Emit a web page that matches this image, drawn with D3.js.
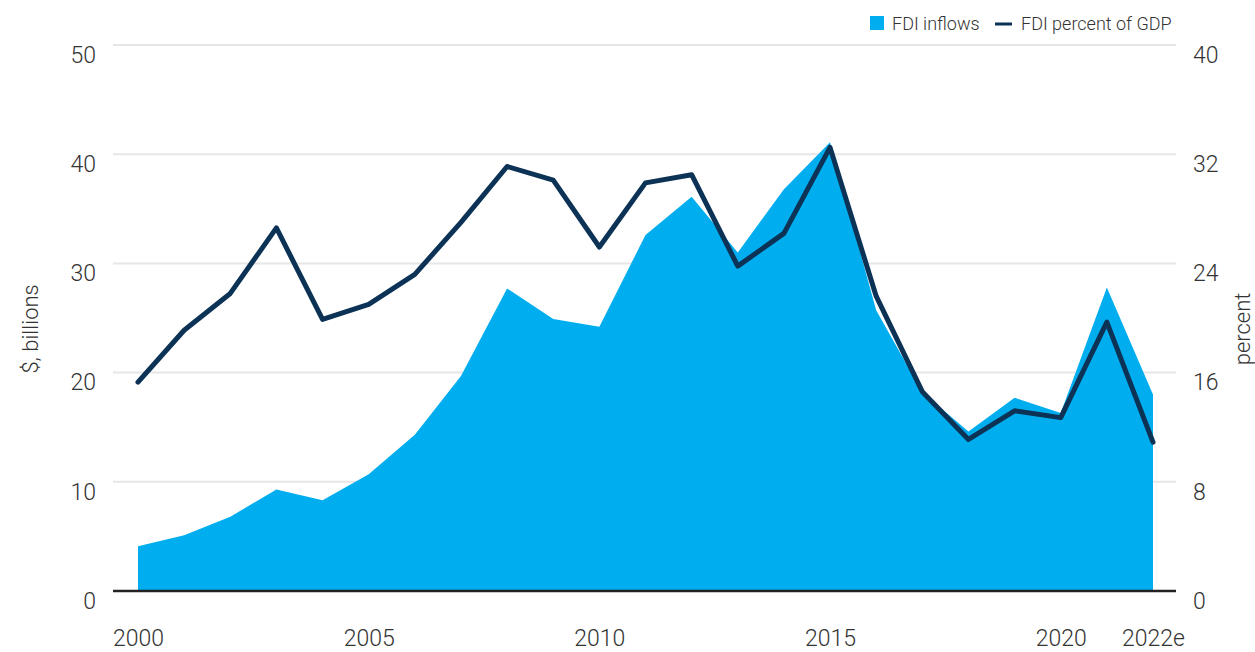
<!DOCTYPE html>
<html>
<head>
<meta charset="utf-8">
<script src="https://cdn.jsdelivr.net/npm/d3@7"></script>
<style>
  body { margin: 0; background: #fff; }
  text { font-family: "Roboto", sans-serif; font-weight: 300; fill: #333; }
</style>
</head>
<body>
<div id="chart"></div>
<script>
var years = [2000, 2001, 2002, 2003, 2004, 2005, 2006, 2007, 2008, 2009, 2010, 2011,
             2012, 2013, 2014, 2015, 2016, 2017, 2018, 2019, 2020, 2021, 2022];
var fdiInflows = [4.1, 5.1, 6.8, 9.3, 8.3, 10.7, 14.3, 19.7, 27.7, 24.9, 24.2, 32.6,
                  36.1, 31.0, 36.8, 41.1, 25.7, 18.2, 14.6, 17.7, 16.3, 27.8, 18.0];
var fdiPctGdp = [15.3, 19.1, 21.8, 26.6, 19.9, 21.0, 23.2, 27.0, 31.1, 30.1, 25.2, 29.9,
                 30.5, 23.8, 26.2, 32.5, 21.6, 14.6, 11.1, 13.2, 12.7, 19.7, 10.9];
var leftTicks = [0, 10, 20, 30, 40, 50];
var rightTicks = [0, 8, 16, 24, 32, 40];
var xTicks = [2000, 2005, 2010, 2015, 2020, 2022];
var xTickLabels = ["2000", "2005", "2010", "2015", "2020", "2022e"];

var svgWidth = 1255;
var svgHeight = 652;

var margin = { top: 45, right: 79, bottom: 61, left: 113 };
var width = svgWidth - margin.left - margin.right;
var height = svgHeight - margin.top - margin.bottom;

var svg = d3.select("#chart")
    .append("svg")
    .attr("width", svgWidth)
    .attr("height", svgHeight);

var chartGroup = svg.append("g")
    .attr("transform", `translate(${margin.left}, ${margin.top})`);

var xScale = d3.scaleLinear()
    .domain([2000, 2022])
    .range([25, 1040]);

var yLeft = d3.scaleLinear().domain([0, 50]).range([height, 0]);
var yRight = d3.scaleLinear().domain([0, 40]).range([height, 0]);

var data = years.map(function(y, i) {
    return { year: y, inflow: fdiInflows[i], pct: fdiPctGdp[i] };
});

// gridlines
chartGroup.selectAll(".grid")
    .data(leftTicks.slice(1))
    .enter()
    .append("line")
    .attr("x1", 0)
    .attr("x2", width)
    .attr("y1", d => yLeft(d))
    .attr("y2", d => yLeft(d))
    .attr("stroke", "#e6e6e6")
    .attr("stroke-width", 2);

// area
var area = d3.area()
    .x(d => xScale(d.year))
    .y0(yLeft(0))
    .y1(d => yLeft(d.inflow));

chartGroup.append("path")
    .datum(data)
    .attr("d", area)
    .attr("fill", "#00aeef");

// baseline
chartGroup.append("line")
    .attr("x1", 0)
    .attr("x2", width)
    .attr("y1", height)
    .attr("y2", height)
    .attr("stroke", "#222")
    .attr("stroke-width", 2.5);

// line
var line = d3.line()
    .x(d => xScale(d.year))
    .y(d => yRight(d.pct));

chartGroup.append("path")
    .datum(data)
    .attr("d", line)
    .attr("fill", "none")
    .attr("stroke", "#0c3356")
    .attr("stroke-width", 5)
    .attr("stroke-linejoin", "round")
    .attr("stroke-linecap", "round");

// left axis
var leftAxis = d3.axisLeft(yLeft).tickValues(leftTicks).tickSize(0).tickPadding(17);
var gl = chartGroup.append("g").call(leftAxis);
gl.select(".domain").remove();
gl.selectAll("text").style("font-size", "23px").attr("dy", "0.75em")
    .style("font-family", "Roboto").style("font-weight", 300).style("fill", "#333");

// right axis
var rightAxis = d3.axisRight(yRight).tickValues(rightTicks).tickSize(0).tickPadding(17);
var gr = chartGroup.append("g")
    .attr("transform", `translate(${width}, 0)`)
    .call(rightAxis);
gr.select(".domain").remove();
gr.selectAll("text").style("font-size", "23px").attr("dy", "0.75em")
    .style("font-family", "Roboto").style("font-weight", 300).style("fill", "#333");

// x axis
var bottomAxis = d3.axisBottom(xScale)
    .tickValues(xTicks)
    .tickSize(0)
    .tickPadding(39)
    .tickFormat((d, i) => xTickLabels[i]);
var gx = chartGroup.append("g")
    .attr("transform", `translate(0, ${height})`)
    .call(bottomAxis);
gx.select(".domain").remove();
gx.selectAll("text").style("font-size", "23px")
    .style("font-family", "Roboto").style("font-weight", 300).style("fill", "#333");

// axis titles
svg.append("text")
    .attr("transform", `translate(38, ${margin.top + yLeft(24)}) rotate(-90)`)
    .attr("text-anchor", "middle")
    .style("font-size", "22px")
    .text("$, billions");

svg.append("text")
    .attr("transform", `translate(1250, ${margin.top + yLeft(24)}) rotate(-90)`)
    .attr("text-anchor", "middle")
    .style("font-size", "22px")
    .text("percent");

// legend
var legend = svg.append("g");
legend.append("rect")
    .attr("x", 870).attr("y", 16)
    .attr("width", 14).attr("height", 14)
    .attr("fill", "#00aeef");
legend.append("text")
    .attr("x", 892).attr("y", 30)
    .style("font-size", "18px")
    .text("FDI inflows");
legend.append("line")
    .attr("x1", 995).attr("x2", 1012)
    .attr("y1", 24).attr("y2", 24)
    .attr("stroke", "#0c3356")
    .attr("stroke-width", 3);
legend.append("text")
    .attr("x", 1021).attr("y", 30)
    .style("font-size", "18px")
    .text("FDI percent of GDP");
</script>
</body>
</html>
